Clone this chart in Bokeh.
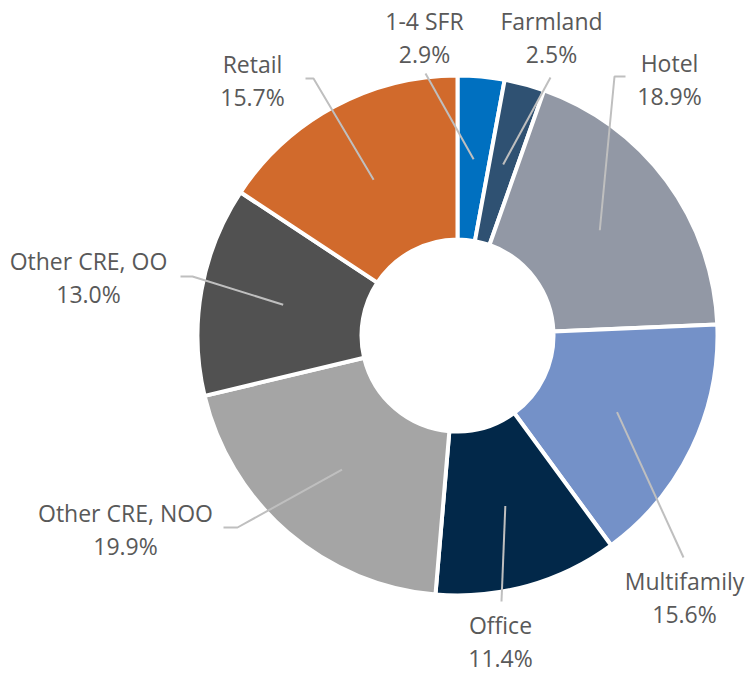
import math
from bokeh.plotting import figure
from bokeh.models import Range1d, ColumnDataSource
from bokeh.core.properties import value
from bokeh.embed import file_html
from bokeh.resources import INLINE

# ---- data ----
categories = ["1-4 SFR", "Farmland", "Hotel", "Multifamily", "Office",
              "Other CRE, NOO", "Other CRE, OO", "Retail"]
shares = [2.9, 2.5, 18.9, 15.6, 11.4, 19.9, 13.0, 15.7]
pct_labels = ["2.9%", "2.5%", "18.9%", "15.6%", "11.4%", "19.9%", "13.0%", "15.7%"]
colors = ["#0070C0", "#2F5172", "#9298A5", "#7491C8", "#022849",
          "#A5A5A5", "#515151", "#D16A2C"]

# ---- layout (page pixel coordinates) ----
W, H = 747, 673
CX, CY = 457, 335
R_OUT, R_IN = 260, 96
R_LEAD = 177
label_pos = [(424, 20), (551, 20), (669, 62), (684, 580), (500, 624),
             (125, 512), (88, 260), (252, 63)]
line_gap = 33
leader_outer = [
    [(425, 73)],
    [(550, 77)],
    [(625, 76), (614, 76)],
    [(683, 557)],
    [(501, 601)],
    [(223, 527), (237, 527)],
    [(180, 276), (192, 276)],
    [(305, 78), (313, 78)],
]

p = figure(width=W, height=H, output_backend="svg", toolbar_location=None,
           x_range=Range1d(0, W), y_range=Range1d(-H, 0),
           min_border=0)
p.axis.visible = False
p.grid.visible = False
p.outline_line_color = None
p.background_fill_color = "white"

total = sum(shares)
starts, ends, mids = [], [], []
cum = 0.0
for s in shares:
    a0 = math.pi / 2 - cum / total * 2 * math.pi
    cum += s
    a1 = math.pi / 2 - cum / total * 2 * math.pi
    starts.append(a0)
    ends.append(a1)
    mids.append((a0 + a1) / 2)

src = ColumnDataSource(dict(x=[CX] * len(shares), y=[-CY] * len(shares),
                            start=starts, end=ends, color=colors))
p.annular_wedge(x="x", y="y", inner_radius=R_IN, outer_radius=R_OUT,
                start_angle="start", end_angle="end", direction="clock",
                fill_color="color", line_color="white", line_width=4,
                source=src)

# leader lines
xs, ys = [], []
for m, outer in zip(mids, leader_outer):
    ix = CX + R_LEAD * math.cos(m)
    iy = -CY + R_LEAD * math.sin(m)
    lx = [pt[0] for pt in outer] + [ix]
    ly = [-pt[1] for pt in outer] + [iy]
    xs.append(lx)
    ys.append(ly)
p.multi_line(xs=xs, ys=ys, line_color="#BFBFBF", line_width=2)

# labels
names_src = ColumnDataSource(dict(
    x=[lp[0] for lp in label_pos], y=[-lp[1] for lp in label_pos],
    t=categories))
pct_src = ColumnDataSource(dict(
    x=[lp[0] for lp in label_pos], y=[-(lp[1] + line_gap) for lp in label_pos],
    t=pct_labels))
for s in (names_src, pct_src):
    p.text(x="x", y="y", text="t", source=s, text_align="center",
           text_baseline="middle", text_font=value("Open Sans"),
           text_font_size="23px", text_color="#595959")

open("out.html", "w").write(file_html(p, INLINE))
